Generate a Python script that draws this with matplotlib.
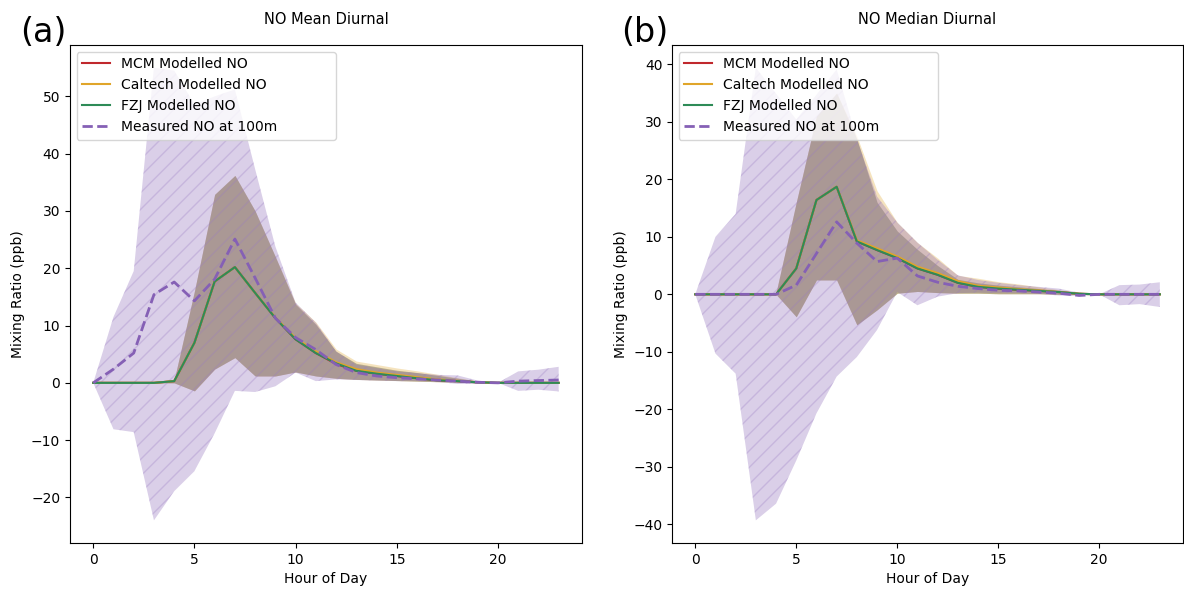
import matplotlib
matplotlib.use("Agg")
import matplotlib.pyplot as plt
import numpy as np

hours = np.arange(24)

# ---- mean diurnal (panel a)
mcm_mean = [0, 0, 0, 0, 0.3, 7.0, 17.7, 20.2, 15.7, 11.3, 7.6, 5.2, 3.3, 2.1, 1.6, 1.2, 0.8, 0.45, 0.3, 0.1, 0, 0, 0, 0]
caltech_mean = [0, 0, 0, 0, 0.3, 7.0, 17.7, 20.2, 15.7, 11.4, 7.8, 5.5, 3.6, 2.4, 1.8, 1.4, 1.0, 0.6, 0.35, 0.1, 0, 0, 0, 0]
fzj_mean = [0, 0, 0, 0, 0.3, 7.0, 17.7, 20.2, 15.7, 11.3, 7.6, 5.2, 3.4, 2.1, 1.6, 1.2, 0.8, 0.45, 0.3, 0.1, 0, 0, 0, 0]
model_mean_hi = [0, 0, 0, 0, 0.5, 16.0, 32.9, 36.2, 30.0, 22.0, 13.7, 10.2, 5.5, 3.4, 2.8, 2.2, 1.8, 1.3, 0.8, 0.3, 0, 0, 0, 0]
caltech_mean_hi = [0, 0, 0, 0, 0.5, 16.0, 32.9, 36.2, 30.0, 22.0, 13.9, 10.6, 5.9, 3.8, 3.2, 2.6, 2.1, 1.5, 0.9, 0.3, 0, 0, 0, 0]
model_mean_lo = [0, 0, 0, 0, 0, -1.4, 2.4, 4.4, 1.2, 1.2, 1.9, 1.2, 0.8, 0.6, 0.5, 0.4, 0.3, 0.2, 0.1, 0, 0, 0, 0, 0]
meas_mean = [0, 2.4, 5.2, 15.4, 17.6, 14.3, 18.1, 25.1, 18.3, 11.3, 7.9, 5.8, 3.2, 1.8, 1.2, 0.9, 0.7, 0.5, 0.3, 0.1, 0, 0.3, 0.4, 0.5]
meas_mean_hi = [0, 11.5, 19.5, 55.0, 54.5, 48.6, 50.0, 51.2, 37.3, 23.8, 14.0, 10.5, 5.5, 3.2, 2.6, 2.0, 1.7, 1.4, 1.3, 0.4, 0, 2.0, 2.3, 2.8]
meas_mean_lo = [0, -8.1, -8.6, -24.0, -18.9, -15.4, -8.8, -1.4, -1.6, -0.6, 1.8, 0.3, 0.6, 0.5, 0.4, 0.3, 0.3, 0.2, -0.2, -0.2, 0, -1.4, -1.2, -1.5]

# ---- median diurnal (panel b)
mcm_med = [0, 0, 0, 0, 0, 4.5, 16.4, 18.7, 9.2, 7.7, 6.3, 4.5, 3.4, 2.0, 1.3, 1.0, 0.8, 0.6, 0.4, 0.1, 0, 0, 0, 0]
caltech_med = [0, 0, 0, 0, 0, 4.5, 16.4, 18.7, 9.4, 8.0, 6.6, 4.8, 3.7, 2.3, 1.5, 1.2, 0.9, 0.7, 0.4, 0.1, 0, 0, 0, 0]
fzj_med = [0, 0, 0, 0, 0, 4.5, 16.4, 18.7, 9.2, 7.7, 6.3, 4.5, 3.4, 2.0, 1.3, 1.0, 0.8, 0.6, 0.4, 0.1, 0, 0, 0, 0]
model_med_hi = [0, 0, 0, 0, 0.3, 16.0, 31.0, 35.0, 27.0, 16.0, 11.0, 7.8, 5.0, 2.6, 2.0, 1.6, 1.3, 1.0, 0.6, 0.3, 0, 0, 0, 0]
caltech_med_hi = [0, 0, 0, 0, 0.3, 16.0, 31.0, 35.0, 27.5, 18.0, 12.5, 9.0, 6.3, 3.3, 2.8, 2.2, 1.8, 1.3, 0.8, 0.3, 0, 0, 0, 0]
model_med_lo = [0, 0, 0, 0, 0, -3.9, 2.5, 2.5, -5.3, -2.7, 0.2, 0.5, 0.3, 0.2, 0.2, 0.1, 0.1, 0.1, 0, 0, 0, 0, 0, 0]
meas_med = [0, 0, 0, 0, 0, 1.6, 7.1, 12.6, 8.9, 5.7, 6.3, 3.2, 2.1, 1.4, 1.0, 0.7, 0.6, 0.4, 0.2, -0.2, 0, 0, 0, 0]
meas_med_hi = [0, 10.0, 14.0, 39.4, 34.9, 30.4, 34.7, 39.1, 27.0, 17.0, 12.5, 9.0, 6.0, 3.3, 2.5, 2.0, 1.6, 1.3, 1.0, 0.3, 0, 1.6, 1.7, 2.1]
meas_med_lo = [0, -10.3, -13.8, -39.3, -36.4, -28.9, -20.7, -14.3, -10.9, -6.2, 0.4, -1.9, -0.4, 0.2, 0.3, 0.2, 0.2, 0.1, -0.2, -0.3, 0, -1.9, -1.7, -2.2]

c_mcm = "#c0282d"
c_cal = "#e0a52a"
c_fzj = "#2e8b57"
c_meas = "#8560b5"

plt.rcParams["hatch.color"] = "#9a7cc4"
plt.rcParams["hatch.linewidth"] = 1.0

fig = plt.figure(figsize=(11.84, 5.92), dpi=100)
ax_a = fig.add_axes([0.0591, 0.0828, 0.4324, 0.841])
ax_b = fig.add_axes([0.5676, 0.0828, 0.4316, 0.841])


def draw(ax, mcm, cal, fzj, hi, cal_hi, lo, meas, meas_hi, meas_lo, title):
    ax.plot(hours, mcm, color=c_mcm, lw=1.5, label="MCM Modelled NO")
    ax.fill_between(hours, lo, hi, color=c_mcm, alpha=0.25, lw=0)
    ax.plot(hours, cal, color=c_cal, lw=1.5, label="Caltech Modelled NO")
    ax.fill_between(hours, lo, cal_hi, color=c_cal, alpha=0.3, lw=0)
    ax.plot(hours, fzj, color=c_fzj, lw=1.5, label="FZJ Modelled NO")
    ax.fill_between(hours, lo, hi, color=c_fzj, alpha=0.25, lw=0)
    ax.plot(hours, meas, color=c_meas, lw=2, ls="--", label="Measured NO at 100m")
    ax.fill_between(hours, meas_lo, meas_hi, facecolor=c_meas, alpha=0.3,
                    hatch="//", edgecolor="#9a7cc4", lw=0)
    ax.set_xlabel("Hour of Day", fontsize=10)
    ax.set_ylabel("Mixing Ratio (ppb)", fontsize=10)
    ax.set_title(title, fontsize=10.5, pad=15)
    ax.set_xticks([0, 5, 10, 15, 20])
    ax.tick_params(labelsize=10)
    ax.legend(loc="upper left", fontsize=10, mode="expand", borderaxespad=0,
              bbox_to_anchor=(0.013, 0.5, 0.507, 0.4866))


draw(ax_a, mcm_mean, caltech_mean, fzj_mean, model_mean_hi, caltech_mean_hi,
     model_mean_lo, meas_mean, meas_mean_hi, meas_mean_lo, "NO Mean Diurnal")
draw(ax_b, mcm_med, caltech_med, fzj_med, model_med_hi, caltech_med_hi,
     model_med_lo, meas_med, meas_med_hi, meas_med_lo, "NO Median Diurnal")

fig.text(0.017, 0.945, "(a)", fontsize=24, va="center")
fig.text(0.525, 0.945, "(b)", fontsize=24, va="center")

fig.savefig("out.png", dpi=100)
